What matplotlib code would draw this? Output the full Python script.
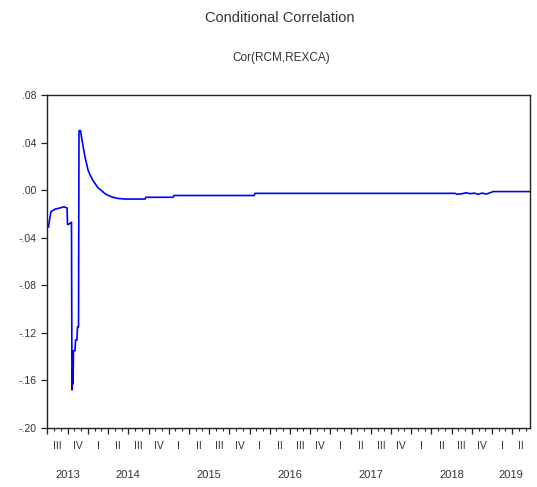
import matplotlib
matplotlib.use("Agg")
import matplotlib.pyplot as plt
import matplotlib.transforms as mtransforms
import numpy as np

plt.rcParams['font.family'] = ['Liberation Sans', 'DejaVu Sans']

# time in decimal years, conditional correlation values
dates = [2013.513, 2013.525, 2013.544, 2013.593, 2013.655, 2013.704, 2013.742,
         2013.748, 2013.779, 2013.797, 2013.803, 2013.810, 2013.816, 2013.822,
         2013.841, 2013.847, 2013.865, 2013.871, 2013.884, 2013.890, 2013.909,
         2013.927, 2013.964, 2014.001, 2014.026, 2014.063, 2014.125, 2014.162,
         2014.212, 2014.261, 2014.311, 2014.372, 2014.459, 2014.707, 2014.719,
         2015.053, 2015.066, 2016.056, 2016.068, 2018.544, 2018.568, 2018.630,
         2018.680, 2018.729, 2018.779, 2018.828, 2018.878, 2018.927, 2018.977,
         2019.014, 2019.472]
corr = [-0.031, -0.025, -0.018, -0.016, -0.015, -0.014, -0.015,
        -0.029, -0.028, -0.027, -0.168, -0.150, -0.163, -0.135,
        -0.135, -0.126, -0.126, -0.115, -0.115, 0.050, 0.050,
        0.042, 0.028, 0.017, 0.013, 0.008, 0.002, 0.000,
        -0.003, -0.0047, -0.006, -0.007, -0.0075, -0.0075, -0.006,
        -0.006, -0.0045, -0.0045, -0.0027, -0.0027, -0.0035, -0.003,
        -0.0022, -0.003, -0.0025, -0.0035, -0.0025, -0.0033, -0.0022,
        -0.0012, -0.0012]

y_ticks = [0.08, 0.04, 0.00, -0.04, -0.08, -0.12, -0.16, -0.20]
quarter_names = ['I', 'II', 'III', 'IV']
years = [2013, 2014, 2015, 2016, 2017, 2018, 2019]
x_start, x_end = 2013.494, 2019.47

title = "Conditional Correlation"
subtitle = "Cor(RCM,REXCA)"

fig = plt.figure(figsize=(5.37, 4.87), dpi=100)
ax = fig.add_axes([47/537, 1-428/487, (530-47)/537, (428-95)/487])

ax.plot(dates, corr, color='#0000ff', lw=1.2)
ax.set_xlim(x_start, x_end)
ax.set_ylim(-0.20, 0.08)

tc = '#333333'
ax.set_yticks(y_ticks)
ax.set_yticklabels([("-" if v < 0 else "") + f"{abs(v):.2f}".lstrip('0') for v in y_ticks],
                   fontsize=7.5, color=tc)

qt = [y + q/4 for y in range(2013, 2020) for q in range(4) if x_start <= y + q/4 <= x_end]
mt = [y + m/12 for y in range(2013, 2020) for m in range(12) if x_start <= y + m/12 <= x_end]
ax.set_xticks(qt)
ax.set_xticks(mt, minor=True)
ax.set_xticklabels([])
ax.tick_params(axis='x', which='major', length=4, width=0.9, direction='out', colors='#222222')
ax.tick_params(axis='x', which='minor', length=2, width=0.8, direction='out', colors='#222222')
ax.tick_params(axis='y', length=4, width=0.9, direction='out', colors='#222222', labelcolor=tc)
for s in ax.spines.values():
    s.set_color('#222222')
    s.set_linewidth(1.0)

trans = mtransforms.blended_transform_factory(ax.transData, ax.transAxes)
for y in years:
    for q in range(4):
        a, b = max(y + q/4, x_start), min(y + (q+1)/4, x_end)
        if b - a > 0.1:
            ax.text((a+b)/2, -0.055, quarter_names[q], transform=trans, ha='center', va='center',
                    fontsize=7.5, color=tc)
    a, b = max(y, x_start), min(y + 1, x_end)
    if b > a:
        ax.text((a+b)/2, -0.14, str(y), transform=trans, ha='center', va='center',
                fontsize=8, color=tc)

fig.text(280/537, 1-18/487, title, ha='center', va='center', fontsize=10.5, color='#333333')
fig.text(281/537, 1-58/487, subtitle, ha='center', va='center', fontsize=8.5, color='#333333')

fig.savefig("out.png", dpi=100)
